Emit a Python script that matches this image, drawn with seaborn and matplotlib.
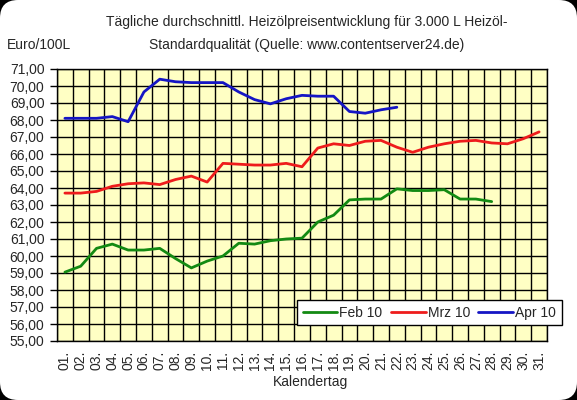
import numpy as np
import pandas as pd
import matplotlib
matplotlib.use('Agg')
import matplotlib.pyplot as plt
from matplotlib.patches import FancyBboxPatch
import seaborn as sns

# Tageswerte (Euro/100L) je Monat
feb_10 = [59.05, 59.4, 60.45, 60.7, 60.35, 60.35, 60.45, 59.85, 59.3, 59.7,
          60.0, 60.75, 60.7, 60.9, 61.0, 61.05, 62.0, 62.4, 63.3, 63.35,
          63.35, 63.95, 63.85, 63.85, 63.9, 63.35, 63.35, 63.2]
mrz_10 = [63.7, 63.7, 63.8, 64.1, 64.25, 64.3, 64.2, 64.5, 64.7, 64.35,
          65.45, 65.4, 65.35, 65.35, 65.45, 65.25, 66.35, 66.6, 66.5, 66.75,
          66.8, 66.4, 66.1, 66.4, 66.6, 66.75, 66.8, 66.65, 66.6, 66.9, 67.3]
apr_10 = [68.1, 68.1, 68.1, 68.2, 67.9, 69.65, 70.4, 70.25, 70.2, 70.2,
          70.2, 69.65, 69.2, 68.95, 69.25, 69.45, 69.4, 69.4, 68.5, 68.4,
          68.6, 68.75]
monate = ['Feb 10', 'Mrz 10', 'Apr 10']
farben = ['#138a13', '#ee1c1c', '#1515c4']
tage = [f'{d:02d}.' for d in range(1, 32)]
y_ticks = list(range(55, 72))

rows = []
for monat, werte in zip(monate, [feb_10, mrz_10, apr_10]):
    for i, v in enumerate(werte):
        rows.append({'Tag': i + 1, 'Preis': v, 'Monat': monat})
df = pd.DataFrame(rows)

sns.set_style('white')
plt.rcParams['font.family'] = ['Liberation Sans', 'DejaVu Sans']
fs = 10

fig = plt.figure(figsize=(5.77, 4.0), dpi=100)
fig.patch.set_facecolor('black')
rahmen = FancyBboxPatch((0.0, 0.0), 5.77, 4.0,
                        boxstyle='round,pad=0,rounding_size=0.18',
                        transform=fig.dpi_scale_trans, facecolor='white',
                        edgecolor='none', zorder=-10)
fig.patches.append(rahmen)

ax = fig.add_axes([57 / 577, 1 - 341 / 400, 490 / 577, 272 / 400])
ax.set_facecolor('#ffffc4')

sns.lineplot(data=df, x='Tag', y='Preis', hue='Monat', hue_order=monate,
             palette=farben, linewidth=2.0, ax=ax, zorder=5)

ax.set_xlim(0.5, 31.5)
ax.set_ylim(55, 71)
ax.set_xticks(range(1, 32))
ax.set_xticklabels(tage, rotation=90, fontsize=fs)
ax.set_xticks(np.arange(0.5, 32, 1), minor=True)
ax.set_yticks(y_ticks)
ax.set_yticklabels([f'{v:.2f}'.replace('.', ',') for v in y_ticks], fontsize=fs)
ax.tick_params(axis='x', which='major', length=0, pad=7)
ax.tick_params(axis='x', which='minor', length=5, width=1, color='black', direction='out')
ax.tick_params(axis='y', which='major', length=5, width=1, color='black',
               direction='out', left=True, pad=4)
ax.grid(True, which='minor', axis='x', color='black', linewidth=1)
ax.grid(True, which='major', axis='y', color='black', linewidth=1)
ax.grid(False, which='major', axis='x')
for s in ax.spines.values():
    s.set_color('black')
    s.set_linewidth(1)
ax.set_xlabel('')
ax.set_ylabel('')

handles, labels = ax.get_legend_handles_labels()
ax.legend(handles, labels, ncol=3, loc='upper left',
          bbox_to_anchor=(297 / 577, 1 - 300 / 400), bbox_transform=fig.transFigure,
          frameon=True, fancybox=False, edgecolor='black', framealpha=1,
          fontsize=fs, handlelength=2.5, handletextpad=0.15, columnspacing=0.6,
          borderpad=0.4, borderaxespad=0)

fig.text(307 / 577, 1 - 22 / 400,
         'Tägliche durchschnittl. Heizölpreisentwicklung für 3.000 L Heizöl-',
         ha='center', va='center', fontsize=fs)
fig.text(307 / 577, 1 - 45 / 400,
         'Standardqualität (Quelle: www.contentserver24.de)',
         ha='center', va='center', fontsize=fs)
fig.text(7 / 577, 1 - 45 / 400, 'Euro/100L', ha='left', va='center', fontsize=fs)
fig.text(311 / 577, 1 - 382 / 400, 'Kalendertag', ha='center', va='center', fontsize=fs)

fig.savefig('out.png', dpi=100, facecolor=fig.get_facecolor())
